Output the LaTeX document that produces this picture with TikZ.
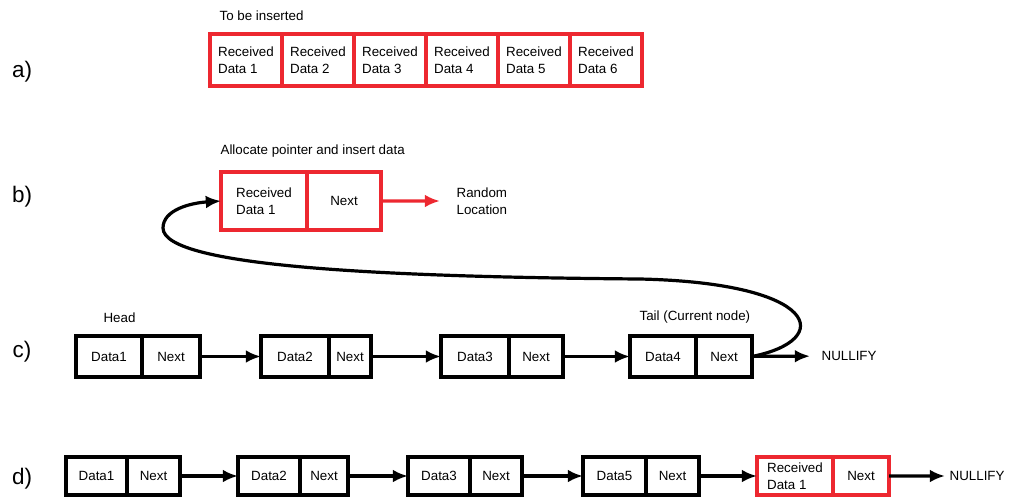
\documentclass[tikz,border=0pt]{standalone}
\usepackage{fontspec}
\setmainfont{Liberation Sans}
\usetikzlibrary{arrows.meta, positioning}
\definecolor{boxred}{RGB}{237,40,48}

\begin{document}
\begin{tikzpicture}[x=0.25mm, y=-0.25mm, >={Latex[length=3.8mm, width=3.2mm]}, line width=0.8mm]
    \tikzstyle{cell}=[draw, rectangle, inner sep=0pt, outer sep=0pt, align=left, font=\fontsize{9.5}{12}\selectfont]
    \tikzstyle{newcell}=[cell, draw=boxred]
    \tikzstyle{caption}=[inner sep=0pt, anchor=west, align=left, font=\fontsize{9.5}{12}\selectfont]
    \tikzstyle{part}=[inner sep=0pt, font=\fontsize{16}{18}\selectfont]
    \tikzstyle{rowa}=[minimum width=18mm, minimum height=13mm]
    \tikzstyle{rowb}=[minimum height=14.5mm]
    \tikzstyle{rowc}=[minimum height=10.25mm]
    \tikzstyle{rowd}=[minimum height=9.5mm]

    \useasboundingbox (0,0) rectangle (1009,497);

    % a) the received data
    \node[part] (lbl_a) at (22,72) {a)};
    \node[caption] (ins) at (218,16) {To be inserted};
    \node[newcell, rowa, anchor=north west] (a_1) at (210,34) {Received\\Data 1};
    \node[newcell, rowa] [right = 0pt of a_1] (a_2) {Received\\Data 2};
    \node[newcell, rowa] [right = 0pt of a_2] (a_3) {Received\\Data 3};
    \node[newcell, rowa] [right = 0pt of a_3] (a_4) {Received\\Data 4};
    \node[newcell, rowa] [right = 0pt of a_4] (a_5) {Received\\Data 5};
    \node[newcell, rowa] [right = 0pt of a_5] (a_6) {Received\\Data 6};

    % b) new node
    \node[part] (lbl_b) at (22,197) {b)};
    \node[caption] (alloc) at (219,151) {Allocate pointer and insert data};
    \node[newcell, rowb, minimum width=21.5mm, anchor=north west] (b_1) at (221,172) {Received\\Data 1};
    \node[newcell, rowb, minimum width=18.5mm] [right = 0pt of b_1] (b_1n) {Next};
    \node[caption] (rand) at (455,201) {Random\\Location};

    % c) list before
    \node[part] (lbl_c) at (22,352) {c)};
    \node[cell, rowc, minimum width=16.5mm, anchor=north west] (c_1) at (76,336) {Data1};
    \node[cell, rowc, minimum width=14.5mm] [right = 0pt of c_1] (c_1n) {Next};
    \node[cell, rowc, minimum width=17mm, anchor=north west] (c_2) at (261,336) {Data2};
    \node[cell, rowc, minimum width=10.5mm] [right = 0pt of c_2] (c_2n) {Next};
    \node[cell, rowc, minimum width=17mm, anchor=north west] (c_3) at (441,336) {Data3};
    \node[cell, rowc, minimum width=13.5mm] [right = 0pt of c_3] (c_3n) {Next};
    \node[cell, rowc, minimum width=16.5mm, anchor=north west] (c_4) at (630,336) {Data4};
    \node[cell, rowc, minimum width=14mm] [right = 0pt of c_4] (c_4n) {Next};
    \node[caption] (head) at (102,318) {Head};
    \node[caption] (tail) at (638,317) {Tail (Current node)};
    \node[caption] (null_c) at (820,356) {NULLIFY};

    % d) list after
    \node[part] (lbl_d) at (22,479) {d)};
    \node[cell, rowd, minimum width=15.25mm, anchor=north west] (d_1) at (66,457) {Data1};
    \node[cell, rowd, minimum width=13.25mm] [right = 0pt of d_1] (d_1n) {Next};
    \node[cell, rowd, minimum width=15.5mm, anchor=north west] (d_2) at (238,457) {Data2};
    \node[cell, rowd, minimum width=12mm] [right = 0pt of d_2] (d_2n) {Next};
    \node[cell, rowd, minimum width=15.5mm, anchor=north west] (d_3) at (408,457) {Data3};
    \node[cell, rowd, minimum width=13mm] [right = 0pt of d_3] (d_3n) {Next};
    \node[cell, rowd, minimum width=15.75mm, anchor=north west] (d_4) at (583,457) {Data5};
    \node[cell, rowd, minimum width=13.25mm] [right = 0pt of d_4] (d_4n) {Next};
    \node[newcell, rowd, minimum width=19mm, anchor=north west] (d_5) at (757,457) {Received\\Data 1};
    \node[newcell, rowd, minimum width=14mm] [right = 0pt of d_5] (d_5n) {Next};
    \node[caption] (null_d) at (948,476) {NULLIFY};

    \path[->]
    (c_1n) edge (c_2)
    (c_2n) edge (c_3)
    (c_3n) edge (c_4)
    (c_4n) edge[shorten >= 2.5mm] (null_c)

    (d_1n) edge (d_2)
    (d_2n) edge (d_3)
    (d_3n) edge (d_4)
    (d_4n) edge (d_5)
    (d_5n) edge[shorten >= 0.75mm] (null_d);

    \draw[->, boxred] (b_1n) -- (rand) [shorten >= 3.75mm];
    \draw[->, shorten >= 0pt] (c_4n.east) .. controls (835,340) and (820,283) .. (640,279)
        .. controls (400,277) and (163,268) .. (163,228)
        .. controls (163,210) and (190,203) .. (b_1.west);
\end{tikzpicture}
\end{document}
